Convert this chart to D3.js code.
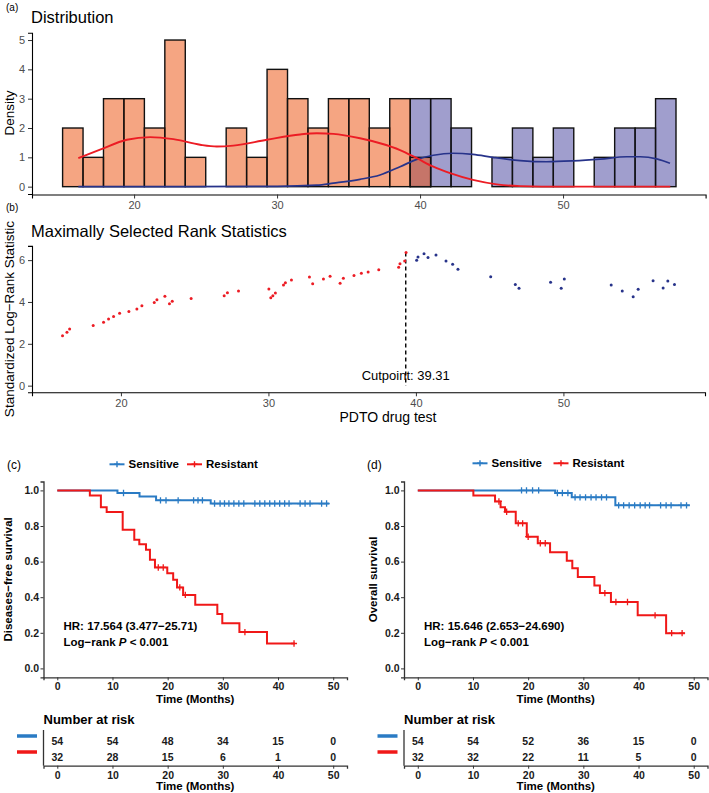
<!DOCTYPE html>
<html><head><meta charset="utf-8">
<script src="https://cdn.jsdelivr.net/npm/d3@7"></script>
<style>body{margin:0;background:#fff} svg{display:block;font-family:"Liberation Sans",Arial,sans-serif}</style>
</head><body><svg id="c" width="709" height="793"></svg>
<script>
// ---------- Panel (a) histogram ----------
const binEdges = [15.0,16.43,17.86,19.29,20.72,22.15,23.58,25.01,26.44,27.87,29.3,30.73,32.16,33.59,35.02,36.45,37.88,39.31,40.74,42.17,43.6,45.03,46.46,47.89,49.32,50.75,52.18,53.61,55.04,56.47,57.9];
const resistantCounts = [2,1,3,3,2,5,1,0,2,1,4,3,2,3,3,2,3,1,0,0,0,0,0,0,0,0,0,0,0,0];
const sensitiveCounts = [0,0,0,0,0,0,0,0,0,0,0,0,0,0,0,0,0,3,3,2,0,1,2,1,2,0,1,2,2,3];
const densRedX = [16.1,17.62,19.49,21.12,22.75,24.62,25.78,26.94,29.28,31.61,32.78,33.94,35.8,37.2,38.6,39.77,40.93,42.1,43.7,45.36,47.0,50.0,57.5];
const densRedY = [0.97,1.26,1.60,1.69,1.62,1.43,1.37,1.40,1.60,1.78,1.82,1.80,1.65,1.48,1.25,0.97,0.68,0.46,0.23,0.08,0.02,0,0];
const densBlueX = [16.1,30.0,32.78,33.94,35.8,37.2,38.6,39.77,40.93,42.3,43.7,45.1,47.0,48.86,50.7,52.6,54.45,55.4,56.55,57.48];
const densBlueY = [0,0.01,0.05,0.12,0.25,0.40,0.68,0.93,1.07,1.14,1.10,1.00,0.89,0.85,0.88,0.94,1.02,1.02,0.95,0.80];
const histYTicks = [0,1,2,3,4,5];
const drugTicks = [20,30,40,50];

// ---------- Panel (b) maximally selected rank statistics ----------
const statRedX = [16.04,16.34,16.52,18.12,18.82,19.16,19.5,19.91,20.54,21.08,21.42,22.26,22.44,22.98,23.29,23.48,24.76,27.0,27.22,27.97,30.03,30.16,30.3,30.47,31.02,31.15,31.56,32.78,33.0,33.73,34.18,34.86,35.08,35.8,36.3,36.76,37.48,38.83,38.92,39.24,39.33];
const statRedY = [2.39,2.55,2.71,2.87,3.03,3.19,3.31,3.46,3.54,3.66,3.82,3.98,4.11,4.27,3.92,4.03,4.16,4.30,4.44,4.52,4.62,4.20,4.30,4.43,4.81,4.92,5.05,5.19,4.87,5.10,5.23,4.89,5.13,5.26,5.37,5.43,5.54,5.66,5.83,5.96,6.36];
const statBlueX = [40.05,40.14,40.55,40.82,41.36,42.04,42.49,42.85,45.07,46.74,46.99,49.13,49.85,50.06,53.24,53.99,54.73,55.07,56.08,56.76,57.08,57.53];
const statBlueY = [6.0,6.15,6.31,6.12,6.25,5.96,5.80,5.56,5.21,4.84,4.65,4.94,4.65,5.10,4.81,4.52,4.25,4.61,5.02,4.67,5.0,4.83];
const cutpoint = 39.31;
const statYTicks = [0,2,4,6];

// ---------- Panels (c),(d) Kaplan-Meier ----------
const kmTimeTicks = [0,10,20,30,40,50];
const kmSurvTicks = [0,0.2,0.4,0.6,0.8,1.0];
const groups = ["Sensitive","Resistant"];
// (c) disease-free survival
const dfsSensTime = [0,10.9,14.9,17.9,27.8];
const dfsSensSurv = [1,0.985,0.966,0.944,0.926];
const dfsSensEnd = 49.3;
const dfsSensCens = [12.0,18.7,19.7,21.9,24.7,25.5,26.3,28.5,29.5,30.3,31.1,32.0,32.9,33.8,35.8,36.7,37.6,38.5,39.4,40.3,41.2,42.0,44.0,44.9,45.8,47.9,48.8];
const dfsResTime = [0,5.9,7.9,8.95,11.85,13.95,14.86,16.07,16.79,17.7,19.93,21.0,21.7,22.8,25.0,29.0,29.9,33.0,38.0];
const dfsResSurv = [1,0.972,0.906,0.878,0.779,0.723,0.698,0.666,0.61,0.567,0.535,0.498,0.455,0.413,0.357,0.305,0.254,0.204,0.14];
const dfsResEnd = 43.05;
const dfsResCens = [18.3,19.2,22.2,23.2,34.0,42.9];
const dfsRiskSens = [54,54,48,34,15,0];
const dfsRiskRes = [32,28,15,6,1,0];
// (d) overall survival
const osSensTime = [0,24.9,27.9,35.8];
const osSensSurv = [1,0.985,0.961,0.916];
const osSensEnd = 49.3;
const osSensCens = [18.8,19.7,20.8,21.9,25.3,26.2,27.2,28.5,29.4,30.4,31.4,32.3,33.3,34.2,36.4,37.3,38.3,39.3,40.3,41.2,42.0,44.0,45.0,45.9,47.7,48.7];
const osResTime = [0,10.07,14.0,15.0,15.8,17.75,19.75,21.74,23.97,27.0,28.0,29.0,32.0,33.0,35.0,39.85,45.0];
const osResSurv = [1,0.972,0.938,0.906,0.88,0.815,0.74,0.703,0.653,0.605,0.563,0.513,0.466,0.423,0.373,0.298,0.198];
const osResEnd = 48.4;
const osResCens = [14.7,16.1,18.2,19.0,20.0,22.2,23.1,33.9,35.9,38.0,43.0,46.0,47.9];
const osRiskSens = [54,54,52,36,15,0];
const osRiskRes = [32,32,22,11,5,0];

// ---------- drawing ----------
const svg = d3.select("#c");
const ORANGE = "#EB4B05", LAV = "#413D9B";
const RED = "#EC1C24", NAVY = "#27338A";
const KMBLUE = "#2A7BC4", KMRED = "#F01818";
const GREY = "#4D4D4D";

function styleAxis(g, color, size, weight) {
  g.selectAll("path.domain").attr("stroke", "#000").attr("stroke-width", 1.1);
  g.selectAll(".tick line").attr("stroke", "#333").attr("stroke-width", 1);
  g.selectAll(".tick text").attr("fill", color).style("font-size", size + "px")
    .style("font-weight", weight).style("font-family", '"Liberation Sans",Arial,sans-serif');
}
const intFmt = d3.format("d");

// Panel (a)
const xA = d3.scaleLinear().domain([12.86, 59.97]).range([32, 705.6]);
const yA = d3.scaleLinear().domain([-0.25, 5.25]).range([194.0, 32.7]);
const gA = svg.append("g");
gA.append("text").attr("x", 6).attr("y", 11).style("font-size", "10px").text("(a)");
gA.append("text").attr("x", 31).attr("y", 22.5).style("font-size", "16.5px").text("Distribution");
gA.append("text").attr("transform", "translate(14,113) rotate(-90)").attr("text-anchor", "middle")
  .style("font-size", "13.5px").text("Density");
const bins = binEdges.slice(0, -1).map((e, i) => ({x0: e, x1: binEdges[i + 1], s: sensitiveCounts[i], r: resistantCounts[i]}));
gA.append("g").selectAll("rect").data(bins).join("rect")
  .attr("x", d => xA(d.x0)).attr("width", d => xA(d.x1) - xA(d.x0))
  .attr("y", d => yA(d.s)).attr("height", d => yA(0) - yA(d.s))
  .attr("fill", LAV).attr("fill-opacity", 0.5).attr("stroke", "#111").attr("stroke-width", 1.4);
gA.append("g").selectAll("rect").data(bins).join("rect")
  .attr("x", d => xA(d.x0)).attr("width", d => xA(d.x1) - xA(d.x0))
  .attr("y", d => yA(d.r)).attr("height", d => yA(0) - yA(d.r))
  .attr("fill", ORANGE).attr("fill-opacity", 0.5).attr("stroke", "#111").attr("stroke-width", 1.4);
const lineA = d3.line().x(d => xA(d[0])).y(d => yA(d[1])).curve(d3.curveMonotoneX);
gA.append("path").attr("d", lineA(densBlueX.map((x, i) => [x, densBlueY[i]])))
  .attr("fill", "none").attr("stroke", NAVY).attr("stroke-width", 1.7);
gA.append("path").attr("d", lineA(densRedX.map((x, i) => [x, densRedY[i]])))
  .attr("fill", "none").attr("stroke", RED).attr("stroke-width", 1.9);
const axAx = gA.append("g").attr("transform", `translate(0,${yA.range()[0] + 0.5})`)
  .call(d3.axisBottom(xA).tickValues(drugTicks).tickFormat(intFmt).tickSizeOuter(0).tickSize(4).tickPadding(3));
styleAxis(axAx, GREY, 11, "normal");
const axAy = gA.append("g").attr("transform", "translate(32,0)")
  .call(d3.axisLeft(yA).tickValues(histYTicks).tickFormat(intFmt).tickSizeOuter(0).tickSize(4).tickPadding(3));
styleAxis(axAy, GREY, 11, "normal");

// Panel (b)
const xB = d3.scaleLinear().domain([13.97, 59.6]).range([32, 705]);
const yB = d3.scaleLinear().domain([-0.318, 6.68]).range([392.3, 245.9]);
const gB = svg.append("g");
gB.append("text").attr("x", 6).attr("y", 211).style("font-size", "10px").text("(b)");
gB.append("text").attr("x", 31).attr("y", 236.5).style("font-size", "16.5px").text("Maximally Selected Rank Statistics");
gB.append("text").attr("transform", "translate(14,319) rotate(-90)").attr("text-anchor", "middle")
  .style("font-size", "13.5px").text("Standardized Log\u2212Rank Statistic");
gB.append("text").attr("x", 388).attr("y", 422).attr("text-anchor", "middle")
  .style("font-size", "14px").text("PDTO drug test");
gB.append("line").attr("x1", xB(cutpoint)).attr("x2", xB(cutpoint))
  .attr("y1", yB(d3.max(statRedY))).attr("y2", yB(0))
  .attr("stroke", "#000").attr("stroke-width", 1.4).attr("stroke-dasharray", "4,3");
gB.append("g").selectAll("circle").data(statRedX.map((x, i) => [x, statRedY[i]])).join("circle")
  .attr("cx", d => xB(d[0])).attr("cy", d => yB(d[1])).attr("r", 1.5).attr("fill", RED);
gB.append("g").selectAll("circle").data(statBlueX.map((x, i) => [x, statBlueY[i]])).join("circle")
  .attr("cx", d => xB(d[0])).attr("cy", d => yB(d[1])).attr("r", 1.5).attr("fill", NAVY);
gB.append("text").attr("x", xB(cutpoint)).attr("y", 380).attr("text-anchor", "middle")
  .style("font-size", "13px").text("Cutpoint: " + cutpoint.toFixed(2));
const axBx = gB.append("g").attr("transform", `translate(0,${yB.range()[0]})`)
  .call(d3.axisBottom(xB).tickValues(drugTicks).tickFormat(intFmt).tickSizeOuter(0).tickSize(4).tickPadding(3));
styleAxis(axBx, GREY, 11, "normal");
const axBy = gB.append("g").attr("transform", "translate(32,0)")
  .call(d3.axisLeft(yB).tickValues(statYTicks).tickFormat(intFmt).tickSizeOuter(0).tickSize(4).tickPadding(3));
styleAxis(axBy, GREY, 11, "normal");

// KM panels
function drawKM(o) {
  const g = svg.append("g");
  const x = d3.scaleLinear().domain([-2.5, 52.5]).range([o.left, o.left + 303.5]);
  const y = d3.scaleLinear().domain([-0.05, 1.05]).range([677.3, 481.5]);
  g.append("text").attr("x", o.tagX).attr("y", 469).style("font-size", "12px").text(o.tag);
  // legend
  const leg = g.append("g").attr("transform", `translate(${o.legX},${o.legY})`);
  [[0, KMBLUE, groups[0]], [o.legGap, KMRED, groups[1]]].forEach(([dx, c, t]) => {
    leg.append("line").attr("x1", dx).attr("x2", dx + 15).attr("y1", 0).attr("y2", 0).attr("stroke", c).attr("stroke-width", 2);
    leg.append("path").attr("d", `M${dx + 4.5},0H${dx + 10.5}M${dx + 7.5},-3V3`).attr("stroke", c).attr("stroke-width", 1.4);
    leg.append("text").attr("x", dx + 19).attr("y", 4).style("font-size", "11.5px").style("font-weight", "bold").text(t);
  });
  // curves
  const line = d3.line().x(d => x(d[0])).y(d => y(d[1])).curve(d3.curveStepAfter);
  const drawGroup = (times, surv, end, cens, color) => {
    const pts = times.map((t, i) => [t, surv[i]]).concat([[end, surv[surv.length - 1]]]);
    g.append("path").attr("d", line(pts)).attr("fill", "none").attr("stroke", color).attr("stroke-width", 2);
    const level = t => surv[d3.bisectRight(times, t) - 1];
    g.append("g").selectAll("path").data(cens).join("path")
      .attr("d", t => `M${x(t) - 3},${y(level(t))}h6M${x(t)},${y(level(t)) - 3.2}v6.4`)
      .attr("stroke", color).attr("stroke-width", 1.3);
  };
  drawGroup(o.sT, o.sS, o.sE, o.sC, KMBLUE);
  drawGroup(o.rT, o.rS, o.rE, o.rC, KMRED);
  // axes
  const ax = g.append("g").attr("transform", `translate(0,${y.range()[0]})`)
    .call(d3.axisBottom(x).tickValues(kmTimeTicks).tickSizeOuter(0).tickSize(3).tickPadding(2.5));
  styleAxis(ax, "#1a1a1a", 10.5, "bold");
  const ay = g.append("g").attr("transform", `translate(${o.left},0)`)
    .call(d3.axisLeft(y).tickValues(kmSurvTicks).tickFormat(d3.format(".1f")).tickSizeOuter(0).tickSize(3).tickPadding(1.5));
  styleAxis(ay, "#1a1a1a", 10.5, "bold");
  ax.select("path.domain").attr("stroke", "#333").attr("stroke-width", 1.3);
  ay.select("path.domain").attr("stroke", "#333").attr("stroke-width", 1.3);
  g.append("text").attr("x", (x.range()[0] + x.range()[1]) / 2).attr("y", 702.5).attr("text-anchor", "middle")
    .style("font-size", "11.5px").style("font-weight", "bold").text("Time (Months)");
  g.append("text").attr("transform", `translate(${o.ylabX},579.4) rotate(-90)`).attr("text-anchor", "middle")
    .style("font-size", "11.5px").style("font-weight", "bold").text(o.ylab);
  const hr = g.append("g").style("font-size", "11.5px").style("font-weight", "bold");
  hr.append("text").attr("x", o.left + 20).attr("y", 629.8).text(o.hr);
  const lr = hr.append("text").attr("x", o.left + 20).attr("y", 645.8);
  lr.append("tspan").text("Log\u2212rank ");
  lr.append("tspan").style("font-style", "italic").text("P");
  lr.append("tspan").text(" < 0.001");
  // risk table
  g.append("text").attr("x", o.left).attr("y", 723.5).style("font-size", "13px").style("font-weight", "bold").text("Number at risk");
  const yr = d3.scalePoint().domain(groups).range([740.7, 756.7]);
  g.append("line").attr("x1", o.left).attr("x2", o.left).attr("y1", 730).attr("y2", 765.7).attr("stroke", "#333").attr("stroke-width", 1.3);
  const rows = [[groups[0], o.riskS, KMBLUE], [groups[1], o.riskR, KMRED]];
  rows.forEach(([grp, vals, c]) => {
    g.append("g").selectAll("text").data(vals).join("text")
      .attr("x", (d, i) => x(kmTimeTicks[i])).attr("y", yr(grp) + 4).attr("text-anchor", "middle")
      .style("font-size", "10.5px").style("font-weight", "bold").attr("fill", "#1a1a1a").text(d => d);
    g.append("line").attr("x1", o.left - 26.5).attr("x2", o.left - 6.5).attr("y1", yr(grp) - 4.7).attr("y2", yr(grp) - 4.7)
      .attr("stroke", c).attr("stroke-width", 3.5);
  });
  const ax2 = g.append("g").attr("transform", "translate(0,765.7)")
    .call(d3.axisBottom(x).tickValues(kmTimeTicks).tickSizeOuter(0).tickSize(3).tickPadding(2.5));
  styleAxis(ax2, "#1a1a1a", 10.5, "bold");
  ax2.select("path.domain").attr("stroke", "#333").attr("stroke-width", 1.3);
  g.append("text").attr("x", (x.range()[0] + x.range()[1]) / 2).attr("y", 790).attr("text-anchor", "middle")
    .style("font-size", "11.5px").style("font-weight", "bold").text("Time (Months)");
}

drawKM({left: 43.5, tag: "(c)", tagX: 7, legX: 109.5, legY: 464.3, legGap: 77.5, ylabX: 12,
  ylab: "Diseases\u2212free survival", hr: "HR: 17.564 (3.477\u221225.71)",
  sT: dfsSensTime, sS: dfsSensSurv, sE: dfsSensEnd, sC: dfsSensCens,
  rT: dfsResTime, rS: dfsResSurv, rE: dfsResEnd, rC: dfsResCens,
  riskS: dfsRiskSens, riskR: dfsRiskRes});
drawKM({left: 404, tag: "(d)", tagX: 367, legX: 472.5, legY: 463.3, legGap: 81, ylabX: 377,
  ylab: "Overall survival", hr: "HR: 15.646 (2.653\u221224.690)",
  sT: osSensTime, sS: osSensSurv, sE: osSensEnd, sC: osSensCens,
  rT: osResTime, rS: osResSurv, rE: osResEnd, rC: osResCens,
  riskS: osRiskSens, riskR: osRiskRes});
</script></body></html>
